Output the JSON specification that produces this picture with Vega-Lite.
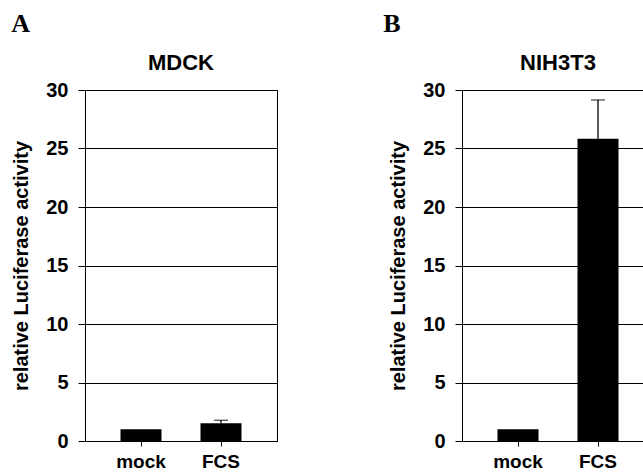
{
  "$schema": "https://vega.github.io/schema/vega-lite/v6.json",
  "padding": {"left": 11, "top": 10, "right": 0, "bottom": 0},
  "background": "white",
  "datasets": {
    "luc": [
      {"panel": "A", "condition": "mock", "value": 1.0, "upper": null},
      {"panel": "A", "condition": "FCS", "value": 1.52, "upper": 1.77},
      {"panel": "B", "condition": "mock", "value": 1.0, "upper": null},
      {"panel": "B", "condition": "FCS", "value": 25.84, "upper": 29.15}
    ]
  },
  "config": {
    "font": "Liberation Sans",
    "view": {"stroke": "black", "strokeWidth": 1},
    "axis": {
      "labelFont": "Liberation Sans",
      "labelFontWeight": "bold",
      "labelColor": "black",
      "titleFont": "Liberation Sans",
      "titleFontWeight": "bold",
      "titleColor": "black",
      "domainColor": "black",
      "tickColor": "black"
    },
    "title": {"color": "black"}
  },
  "spacing": 105,
  "hconcat": [
    {
      "title": {"text": "A", "anchor": "start", "font": "Liberation Serif", "fontSize": 26, "fontWeight": "bold", "dx": 0, "offset": 15},
      "vconcat": [
        {
          "title": {"text": "MDCK", "font": "Liberation Sans", "fontSize": 22, "fontWeight": "bold", "offset": 5},
          "width": 192,
          "height": 351,
          "data": {"name": "luc"},
          "transform": [{"filter": "datum.panel === 'A'"}],
          "encoding": {
            "x": {"field": "condition", "type": "nominal", "sort": ["mock", "FCS"],
              "scale": {"paddingInner": 0.4875, "paddingOuter": 0.44375},
              "axis": {"title": null, "labelAngle": 0, "labelFontSize": 19, "tickSize": 5, "labelPadding": 6}},
            "y": {"field": "value", "type": "quantitative", "scale": {"domain": [0, 30]},
              "axis": {"title": "relative Luciferase activity", "titleFontSize": 20, "titlePadding": 14,
                "values": [0, 5, 10, 15, 20, 25, 30], "grid": true, "gridColor": "black",
                "tickSize": 7, "labelPadding": 10, "labelFontSize": 20}}
          },
          "layer": [
            {"mark": {"type": "bar", "color": "black"}},
            {"transform": [{"filter": "datum.upper != null"}], "mark": {"type": "rule", "color": "black", "strokeWidth": 1.3}, "encoding": {"y": {"field": "value", "type": "quantitative"}, "y2": {"field": "upper"}}},
            {"transform": [{"filter": "datum.upper != null"}], "mark": {"type": "tick", "color": "black", "size": 14, "thickness": 1.3}, "encoding": {"y": {"field": "upper", "type": "quantitative"}}}
          ]
        }
      ]
    },
    {
      "title": {"text": "B", "anchor": "start", "font": "Liberation Serif", "fontSize": 26, "fontWeight": "bold", "dx": -5, "offset": 15},
      "vconcat": [
        {
          "title": {"text": "NIH3T3", "font": "Liberation Sans", "fontSize": 22, "fontWeight": "bold", "offset": 5},
          "width": 192,
          "height": 351,
          "data": {"name": "luc"},
          "transform": [{"filter": "datum.panel === 'B'"}],
          "encoding": {
            "x": {"field": "condition", "type": "nominal", "sort": ["mock", "FCS"],
              "scale": {"paddingInner": 0.4875, "paddingOuter": 0.44375},
              "axis": {"title": null, "labelAngle": 0, "labelFontSize": 19, "tickSize": 5, "labelPadding": 6}},
            "y": {"field": "value", "type": "quantitative", "scale": {"domain": [0, 30]},
              "axis": {"title": "relative Luciferase activity", "titleFontSize": 20, "titlePadding": 14,
                "values": [0, 5, 10, 15, 20, 25, 30], "grid": true, "gridColor": "black",
                "tickSize": 7, "labelPadding": 10, "labelFontSize": 20}}
          },
          "layer": [
            {"mark": {"type": "bar", "color": "black"}},
            {"transform": [{"filter": "datum.upper != null"}], "mark": {"type": "rule", "color": "black", "strokeWidth": 1.3}, "encoding": {"y": {"field": "value", "type": "quantitative"}, "y2": {"field": "upper"}}},
            {"transform": [{"filter": "datum.upper != null"}], "mark": {"type": "tick", "color": "black", "size": 14, "thickness": 1.3}, "encoding": {"y": {"field": "upper", "type": "quantitative"}}}
          ]
        }
      ]
    }
  ]
}
